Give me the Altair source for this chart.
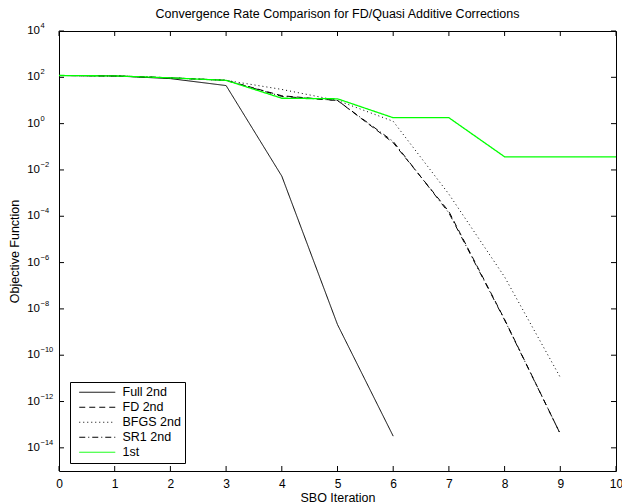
import altair as alt
import pandas as pd

# SBO iteration index and objective values per correction method
iterations = list(range(11))
full_2nd = [120, 115, 88, 44, 5.4e-3, 2.1e-9, 3.2e-14]
fd_2nd = [120, 115, 95, 74, 16, 10, 0.15, 1.6e-4, 3.5e-9, 4e-14]
bfgs_2nd = [120, 115, 95, 74, 30, 10, 1.26, 9e-4, 2.4e-7, 1.1e-11]
sr1_2nd = [120, 115, 95, 74, 15, 10, 0.17, 1.4e-4, 3.3e-9, 4e-14]
first_order = [120, 115, 95, 74, 12.5, 11.8, 1.8, 1.8, 0.037, 0.037, 0.037]

series_names = ["Full 2nd", "FD 2nd", "BFGS 2nd", "SR1 2nd", "1st"]
series_values = [full_2nd, fd_2nd, bfgs_2nd, sr1_2nd, first_order]
series_colors = ["black", "black", "black", "black", "#00ff00"]
series_dashes = [[1, 0], [6, 4], [1, 3], [6, 3, 1, 3], [1, 0]]
series_widths = [1, 1, 1, 1, 1.3]

x_ticks = list(range(11))
y_tick_exponents = [4, 2, 0, -2, -4, -6, -8, -10, -12, -14]

W, H = 557, 440
FONT = "Liberation Sans"
FS = 12
TEXT_FS = 12.5
TICK_LEN = 5

rows = []
for name, values in zip(series_names, series_values):
    for it, v in zip(iterations, values):
        rows.append({"series": name, "iteration": it, "value": v})
df = pd.DataFrame(rows)

xt = pd.DataFrame({"iteration": x_ticks})
yt = pd.DataFrame({
    "value": [10.0 ** e for e in y_tick_exponents],
    "base": ["10"] * len(y_tick_exponents),
    "exp": [str(e).replace("-", "\u2212") for e in y_tick_exponents],
})

x_scale = alt.Scale(domain=[0, 10], nice=False)
y_scale = alt.Scale(type="log", domain=[1e-15, 1e4], nice=False)

legend = alt.Legend(
    title=None,
    orient="none",
    legendX=11,
    legendY=351,
    symbolType="M-4,0H4",
    symbolSize=81,
    symbolStrokeWidth=1,
    symbolOffset=17,
    labelOffset=19,
    labelFont=FONT,
    labelFontSize=TEXT_FS,
    labelColor="black",
    rowPadding=2,
    padding=4,
    strokeColor="black",
    fillColor="white",
)

color = alt.Color("series:N", scale=alt.Scale(domain=series_names, range=series_colors), legend=legend)
dash = alt.StrokeDash("series:N", scale=alt.Scale(domain=series_names, range=series_dashes), legend=legend)

x_axis = alt.Axis(
    values=x_ticks, format="d", ticks=False, domain=False, grid=False,
    labelFlush=False, labelPadding=7, labelFont=FONT, labelFontSize=FS, labelColor="black",
    title="SBO Iteration", titleFont=FONT, titleFontSize=TEXT_FS, titleFontWeight="normal",
    titleColor="black", titlePadding=2,
)
y_axis = alt.Axis(
    labels=False, ticks=False, domain=False, grid=False,
    title="Objective Function", titleFont=FONT, titleFontSize=TEXT_FS, titleFontWeight="normal",
    titleColor="black", titlePadding=38,
)
x_enc = alt.X("iteration:Q", scale=x_scale, axis=x_axis)
y_enc = alt.Y("value:Q", scale=y_scale, axis=y_axis)

layers = []
for name, width in zip(series_names, series_widths):
    layers.append(
        alt.Chart(df)
        .transform_filter(alt.datum.series == name)
        .mark_line(strokeWidth=width)
        .encode(x=x_enc, y=y_enc, color=color, strokeDash=dash)
    )

# inward tick marks on all four sides
tick_style = dict(color="black", strokeWidth=1)
bottom_ticks = alt.Chart(xt).mark_rule(**tick_style).encode(
    x=x_enc, y=alt.value(H), y2=alt.value(H - TICK_LEN))
top_ticks = alt.Chart(xt).mark_rule(**tick_style).encode(
    x=x_enc, y=alt.value(0), y2=alt.value(TICK_LEN))
left_ticks = alt.Chart(yt).mark_rule(**tick_style).encode(
    y=y_enc, x=alt.value(0), x2=alt.value(TICK_LEN))
right_ticks = alt.Chart(yt).mark_rule(**tick_style).encode(
    y=y_enc, x=alt.value(W), x2=alt.value(W - TICK_LEN))

# power-of-ten labels: base plus raised exponent
label_base = alt.Chart(yt).mark_text(align="right", baseline="middle", font=FONT, fontSize=11.5, color="black").encode(
    y=y_enc, x=alt.value(-19), text="base:N")
label_exp = alt.Chart(yt).mark_text(align="left", baseline="middle", font=FONT, fontSize=7.5, color="black", dy=-5).encode(
    y=y_enc, x=alt.value(-18.5), text="exp:N")

chart = (
    alt.layer(*layers, bottom_ticks, top_ticks, left_ticks, right_ticks, label_base, label_exp)
    .properties(
        width=W,
        height=H,
        title=alt.Title(
            "Convergence Rate Comparison for FD/Quasi Additive Corrections",
            font=FONT, fontSize=TEXT_FS, fontWeight="normal", color="black",
            anchor="middle", frame="group", baseline="alphabetic", offset=4, dy=12,
        ),
        autosize=alt.AutoSizeParams(type="none"),
        padding={"left": 59, "top": 31, "right": 6, "bottom": 33},
        background="white",
    )
    .configure_view(stroke="black", strokeWidth=1)
)

chart.save("out.html", embed_options={"renderer": "svg", "actions": False})
